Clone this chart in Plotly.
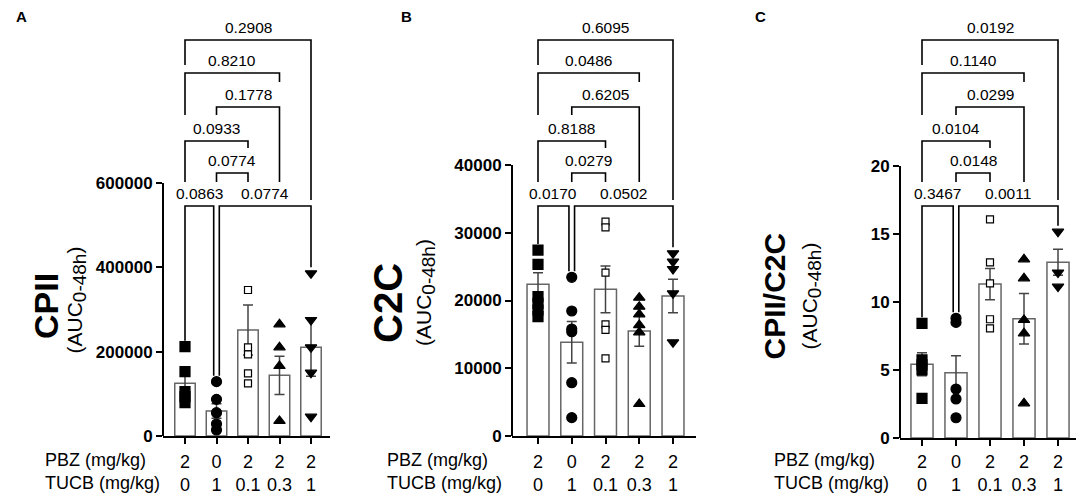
import plotly.graph_objects as go

W, H = 1084, 497
# the page body puts the figure 8 px in from the top-left corner
OX, OY = 8, 8
FW, FH = W - OX, H - OY
FONT = "Liberation Sans, Arial, sans-serif"

groups = [0, 1, 2, 3, 4]
pbz_dose = ["2", "0", "2", "2", "2"]
tucb_dose = ["0", "1", "0.1", "0.3", "1"]

# panel A - CPII
cpii_points = [
    [211800, 152600, 105100, 93300, 79000],
    [128900, 86900, 55300, 28500, 14200],
    [346200, 210300, 193700, 148600, 124900],
    [264800, 210300, 166000, 35600],
    [385800, 275100, 210300, 150200, 45800],
]
cpii_mean = [124900, 59300, 251400, 143900, 210300]
cpii_sem = [24000, 17000, 59300, 45500, 68800]
cpii_p = ["0.0863", "0.0774", "0.0774", "0.0933", "0.1778", "0.8210", "0.2908"]

# panel B - C2C
c2c_points = [
    [27450, 25340, 20570, 19580, 18600, 17610],
    [23420, 18450, 15790, 15400, 7870, 2710],
    [31630, 30800, 24110, 16480, 15650, 11460],
    [20420, 19090, 17960, 16380, 15300, 4720],
    [26960, 25730, 24650, 21060, 13830],
]
c2c_mean = [22390, 13830, 21650, 15500, 20660]
c2c_sem = [1720, 3070, 3450, 2270, 2460]
c2c_p = ["0.0170", "0.0502", "0.0279", "0.8188", "0.6205", "0.0486", "0.6095"]

# panel C - CPII/C2C
ratio_points = [
    [8.43, 5.74, 5.37, 5.0, 2.92],
    [8.80, 8.50, 3.60, 2.87, 1.49],
    [16.08, 12.92, 11.37, 8.73, 8.06],
    [13.14, 11.74, 8.68, 7.70, 2.55],
    [15.17, 12.16, 11.13],
]
ratio_mean = [5.42, 4.80, 11.32, 8.77, 12.92]
ratio_sem = [0.85, 1.25, 1.15, 1.85, 0.95]
ratio_p = ["0.3467", "0.0011", "0.0148", "0.0104", "0.0299", "0.1140", "0.0192"]

# comparisons (same layout in every panel)
pairs = [(0, 1), (1, 4), (1, 2), (0, 2), (1, 3), (0, 3), (0, 4)]
row_px = [206, 206, 173, 141, 107, 73, 40]
leg_end_px = [(None, None), (None, None), (182, 182), (182, 148),
              (115, 182), (115, 82), (65, 200)]

symbols = ["square", "circle", "square", "triangle-up", "triangle-down"]
fills = ["black", "black", "white", "black", "black"]
msizes = [10, 10, 7, 10, 10]

panels = [
    dict(letter="A", title="CPII", tsize=34, tx=25, ty=306, sx=60, sy=300,
         lab_x=43, xpx=(163, 330), x0=185, step=31.5, y0=436, ytp=183,
         ytop=600000, ticks=[0, 200000, 400000, 600000], stand=2,
         pts=cpii_points, mean=cpii_mean, sem=cpii_sem, p=cpii_p, lx=14),
    dict(letter="B", title="C2C", tsize=40, tx=388, ty=303, sx=425, sy=293,
         lab_x=385, xpx=(512, 696), x0=538, step=33.75, y0=436, ytp=165,
         ytop=40000, ticks=[0, 10000, 20000, 30000, 40000], stand=2,
         pts=c2c_points, mean=c2c_mean, sem=c2c_sem, p=c2c_p, lx=406),
    dict(letter="C", title="CPII/C2C", tsize=30, tx=792, ty=296, sx=826, sy=296,
         lab_x=772, xpx=(900, 1084), x0=922, step=34, y0=438, ytp=166,
         ytop=20, ticks=[0, 5, 10, 15, 20], stand=0,
         pts=ratio_points, mean=ratio_mean, sem=ratio_sem, p=ratio_p, lx=768),
]


def px(x):
    return (x - OX) / FW


def py(y):
    return 1 - (y - OY) / FH


fig = go.Figure()
annotations = []
shapes = []

for k, pn in enumerate(panels):
    sfx = "" if k == 0 else str(k + 1)
    xa, ya = "x" + sfx, "y" + sfx
    upp = pn["ytop"] / (pn["y0"] - pn["ytp"])

    def yval(pix, pn=pn, upp=upp):
        return (pn["y0"] - pix) * upp

    fig.add_trace(go.Bar(
        x=groups, y=pn["mean"], width=0.65, xaxis=xa, yaxis=ya,
        marker=dict(color="white", line=dict(color="#666666", width=1.5)),
        error_y=dict(type="data", array=pn["sem"], color="#444444",
                     thickness=1.5, width=5),
        showlegend=False,
    ))
    for g in groups:
        fig.add_trace(go.Scatter(
            x=[g] * len(pn["pts"][g]), y=pn["pts"][g], mode="markers",
            xaxis=xa, yaxis=ya, showlegend=False,
            marker=dict(symbol=symbols[g], size=msizes[g], color=fills[g],
                        line=dict(color="black", width=1.2)),
        ))

    # significance brackets
    d = 2.8 / pn["step"]
    bx, by = [], []
    for b, (i, j) in enumerate(pairs):
        xi, xj = i, j
        if b == 0:
            xj = j - d
        if b == 1:
            xi = i + d
        top = yval(row_px[b])
        le, re = leg_end_px[b]
        yl = max(pn["pts"][i]) + 6 * upp if le is None else yval(le)
        yr = max(pn["pts"][j]) + 6 * upp if re is None else yval(re)
        bx += [xi, xi, xj, xj, None]
        by += [yl, top, top, yr, None]
        annotations.append(dict(
            x=(xi + xj) / 2, y=yval(row_px[b] - 12.5), xref=xa, yref=ya,
            text=pn["p"][b], showarrow=False, yanchor="middle",
            font=dict(size=15.5, color="black"),
        ))
    fig.add_trace(go.Scatter(
        x=bx, y=by, mode="lines", xaxis=xa, yaxis=ya, showlegend=False,
        line=dict(color="black", width=1.6),
    ))

    xr = [(pn["xpx"][0] - pn["x0"]) / pn["step"], (pn["xpx"][1] - pn["x0"]) / pn["step"]]
    dom_x = [px(pn["xpx"][0]), px(pn["xpx"][1])]
    fig.update_layout({
        "xaxis" + sfx: dict(
            domain=dom_x, range=xr, anchor=ya, showgrid=False, zeroline=False,
            automargin=False,
            showline=True, linecolor="black", linewidth=2,
            ticks="outside", ticklen=6, tickwidth=2, tickcolor="black",
            tickvals=groups,
            ticktext=[f"{a}<br>{b}" for a, b in zip(pbz_dose, tucb_dose)],
            tickfont=dict(size=18, color="black"), ticklabelstandoff=pn["stand"],
        ),
        "yaxis" + sfx: dict(
            domain=[py(pn["y0"]), 1], range=[0, (pn["y0"] - OY) * upp], anchor=xa,
            showgrid=False, zeroline=False, showline=False, automargin=False,
            ticks="outside", ticklen=6, tickwidth=2, tickcolor="black",
            tickvals=pn["ticks"], ticktext=[str(t) for t in pn["ticks"]],
            tickfont=dict(size=17, color="black", weight="bold"),
        ),
    })
    shapes.append(dict(type="line", xref="paper", yref=ya,
                       x0=dom_x[0], x1=dom_x[0], y0=0, y1=pn["ticks"][-1],
                       line=dict(color="black", width=2)))

    # panel letter, axis titles, row labels
    annotations.append(dict(x=px(pn["lx"]), y=py(16), xref="paper", yref="paper",
                            text="<b>%s</b>" % pn["letter"], showarrow=False,
                            yanchor="middle", font=dict(size=15, color="black")))
    annotations.append(dict(x=px(pn["tx"]), y=py(pn["ty"]), xref="paper", yref="paper",
                            text="<b>%s</b>" % pn["title"], showarrow=False, textangle=-90,
                            yanchor="middle", font=dict(size=pn["tsize"], color="black")))
    annotations.append(dict(x=px(pn["sx"]), y=py(pn["sy"]), xref="paper", yref="paper",
                            text="(AUC<sub><span style='font-size:19px'>0-48h</span></sub>)",
                            showarrow=False, textangle=-90, yanchor="middle",
                            font=dict(size=21, color="black")))
    for txt, ty in [("PBZ (mg/kg)", 460), ("TUCB (mg/kg)", 483)]:
        annotations.append(dict(x=px(pn["lab_x"]), y=py(ty), xref="paper", yref="paper",
                                text=txt, showarrow=False, xanchor="left", yanchor="middle",
                                font=dict(size=18, color="black")))

fig.update_layout(
    width=FW, height=FH, margin=dict(l=0, r=0, t=0, b=0, pad=0),
    paper_bgcolor="white", plot_bgcolor="white",
    font=dict(family=FONT, color="black"),
    annotations=annotations, shapes=shapes, showlegend=False,
)

fig.write_html("out.html")
